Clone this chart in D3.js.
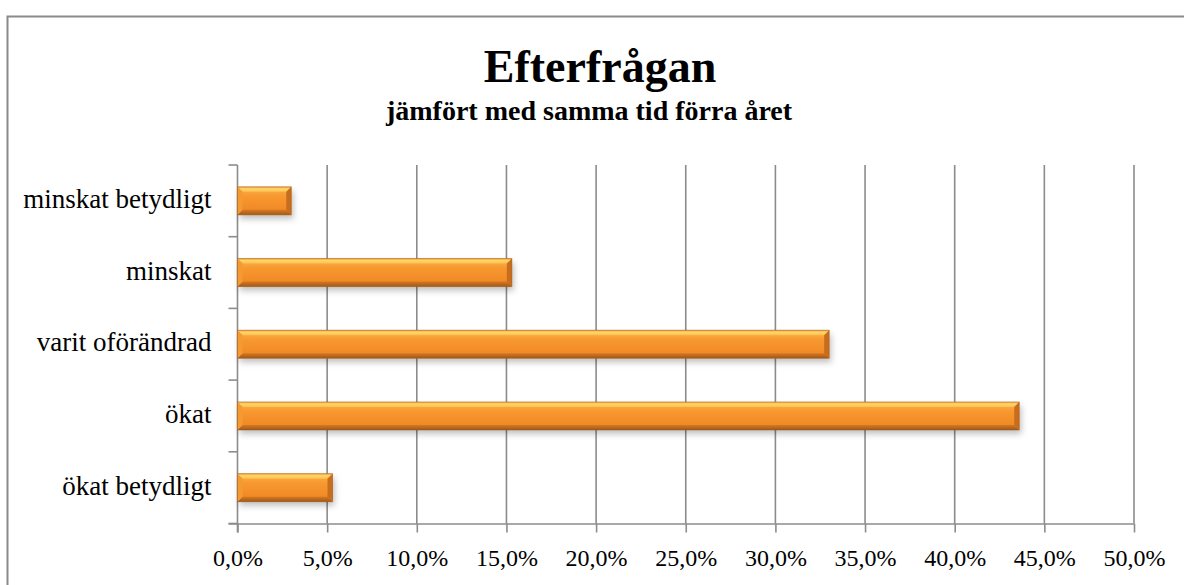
<!DOCTYPE html>
<html>
<head>
<meta charset="utf-8">
<script src="https://cdn.jsdelivr.net/npm/d3@7"></script>
<style>
  html, body { margin: 0; padding: 0; background: #fff; }
  #chart { width: 1184px; height: 585px; overflow: hidden; }
  text { font-family: "Liberation Serif", "DejaVu Serif", serif; fill: #000; }
</style>
</head>
<body>
<div id="chart"></div>
<script>
// Efterfrågan – horizontal bar chart

const categories = ["minskat betydligt", "minskat", "varit oförändrad", "ökat", "ökat betydligt"]
const values = [3.0, 15.3, 33.0, 43.6, 5.3]
const tickValues = [0, 5, 10, 15, 20, 25, 30, 35, 40, 45, 50]

const WIDTH = 1184
const HEIGHT = 585
const PLOT = { LEFT: 237.5, RIGHT: 1134, TOP: 165, BOTTOM: 523.5 }

const sv = d3.formatLocale({ decimal: ",", thousands: " ", grouping: [3], currency: ["", " kr"] })
const fmt = d => sv.format(".1f")(d) + "%"

const svg = d3.select("#chart")
  .append("svg")
  .attr("width", WIDTH)
  .attr("height", HEIGHT)

const defs = svg.append("defs")

// bar body gradient (vertical)
const g1 = defs.append("linearGradient")
  .attr("id", "barFill").attr("x1", 0).attr("y1", 0).attr("x2", 0).attr("y2", 1)
g1.append("stop").attr("offset", "0%").attr("stop-color", "#fbb24a")
g1.append("stop").attr("offset", "35%").attr("stop-color", "#f7982f")
g1.append("stop").attr("offset", "100%").attr("stop-color", "#ef8424")

const g2 = defs.append("linearGradient")
  .attr("id", "topBev").attr("x1", 0).attr("y1", 0).attr("x2", 0).attr("y2", 1)
g2.append("stop").attr("offset", "0%").attr("stop-color", "#f3a642")
g2.append("stop").attr("offset", "40%").attr("stop-color", "#ffd667")
g2.append("stop").attr("offset", "100%").attr("stop-color", "#fcbf50")

const g3 = defs.append("linearGradient")
  .attr("id", "botBev").attr("x1", 0).attr("y1", 0).attr("x2", 0).attr("y2", 1)
g3.append("stop").attr("offset", "0%").attr("stop-color", "#d8781f")
g3.append("stop").attr("offset", "100%").attr("stop-color", "#9e5a1c")

const shadow = defs.append("filter")
  .attr("id", "shadow").attr("x", "-10%").attr("y", "-30%").attr("width", "130%").attr("height", "190%")
shadow.append("feDropShadow")
  .attr("dx", 2).attr("dy", 4).attr("stdDeviation", 3)
  .attr("flood-color", "#000").attr("flood-opacity", 0.25)

// outer frame
svg.append("rect")
  .attr("x", 7.5).attr("y", 16.5)
  .attr("width", 1300).attr("height", 700)
  .attr("fill", "#fff")
  .attr("stroke", "#8a8a8a")
  .attr("stroke-width", 2)

// titles
svg.append("text")
  .attr("x", 600).attr("y", 82)
  .attr("text-anchor", "middle")
  .attr("font-weight", "bold")
  .attr("font-size", 46)
  .text("Efterfrågan")

svg.append("text")
  .attr("x", 589).attr("y", 120)
  .attr("text-anchor", "middle")
  .attr("font-weight", "bold")
  .attr("font-size", 28)
  .text("jämfört med samma tid förra året")

const x = d3.scaleLinear()
  .domain([0, 50])
  .range([PLOT.LEFT, PLOT.RIGHT])

const y = d3.scaleBand()
  .domain(categories)
  .range([PLOT.TOP, PLOT.BOTTOM])
  .paddingInner(0.61)
  .paddingOuter(0.305)

const grid = svg.append("g").attr("stroke", "#8c8c8c").attr("stroke-width", 1.6)

// vertical gridlines
grid.selectAll("line.grid")
  .data(tickValues.filter(d => d > 0))
  .enter().append("line")
  .attr("class", "grid")
  .attr("x1", d => x(d)).attr("x2", d => x(d))
  .attr("y1", PLOT.TOP).attr("y2", PLOT.BOTTOM)

// x axis
const xAxis = svg.append("g")
  .attr("transform", `translate(0,${PLOT.BOTTOM})`)
  .call(d3.axisBottom(x).tickValues(tickValues).tickSize(9).tickSizeOuter(0).tickFormat(fmt))
xAxis.select(".domain").attr("stroke", "#8c8c8c").attr("stroke-width", 1.6)
  .attr("d", `M${PLOT.LEFT - 9},0.5H${PLOT.RIGHT}`)
xAxis.selectAll(".tick line").attr("stroke", "#8c8c8c").attr("stroke-width", 1.6)
xAxis.selectAll(".tick text")
  .attr("y", 25).attr("dy", "0.71em")
  .attr("font-size", 24)
  .attr("fill", "#000")

// y axis line and ticks at band boundaries
const bounds = d3.range(categories.length + 1).map(i => PLOT.TOP + i * y.step())
grid.append("line")
  .attr("x1", PLOT.LEFT).attr("x2", PLOT.LEFT)
  .attr("y1", PLOT.TOP).attr("y2", PLOT.BOTTOM + 9)
grid.selectAll("line.ytick")
  .data(bounds)
  .enter().append("line")
  .attr("class", "ytick")
  .attr("x1", PLOT.LEFT - 9).attr("x2", PLOT.LEFT)
  .attr("y1", d => d).attr("y2", d => d)

// category labels
svg.append("g").selectAll("text")
  .data(categories)
  .enter().append("text")
  .attr("x", PLOT.LEFT - 26)
  .attr("y", d => y(d) + y.bandwidth() / 2 + 7)
  .attr("text-anchor", "end")
  .attr("font-size", 27)
  .text(d => d)

// bars with bevel
const bev = 5
const bars = svg.append("g").selectAll("g")
  .data(categories.map((c, i) => ({ c, v: values[i] })))
  .enter().append("g")
  .attr("transform", d => `translate(${x(0)},${y(d.c)})`)

bars.append("rect")
  .attr("width", d => x(d.v) - x(0))
  .attr("height", y.bandwidth())
  .attr("fill", "url(#barFill)")
  .attr("filter", "url(#shadow)")

// top bevel
bars.append("path")
  .attr("d", d => {
    const w = x(d.v) - x(0)
    return `M0,0H${w}L${w - bev},${bev}H${bev}Z`
  })
  .attr("fill", "url(#topBev)")
// bottom bevel
bars.append("path")
  .attr("d", d => {
    const w = x(d.v) - x(0), h = y.bandwidth()
    return `M0,${h}H${w}L${w - bev},${h - bev}H${bev}Z`
  })
  .attr("fill", "url(#botBev)")
// right bevel
bars.append("path")
  .attr("d", d => {
    const w = x(d.v) - x(0), h = y.bandwidth()
    return `M${w},0V${h}L${w - bev},${h - bev}V${bev}Z`
  })
  .attr("fill", "#c86d1d")
// left bevel
bars.append("path")
  .attr("d", d => {
    const h = y.bandwidth()
    return `M0,0V${h}L${bev},${h - bev}V${bev}Z`
  })
  .attr("fill", "#f59a30")
// bar outline
bars.append("rect")
  .attr("width", d => x(d.v) - x(0))
  .attr("height", y.bandwidth())
  .attr("fill", "none")
  .attr("stroke", "#9a5518")
  .attr("stroke-opacity", 0.5)
  .attr("stroke-width", 1)
</script>
</body>
</html>
